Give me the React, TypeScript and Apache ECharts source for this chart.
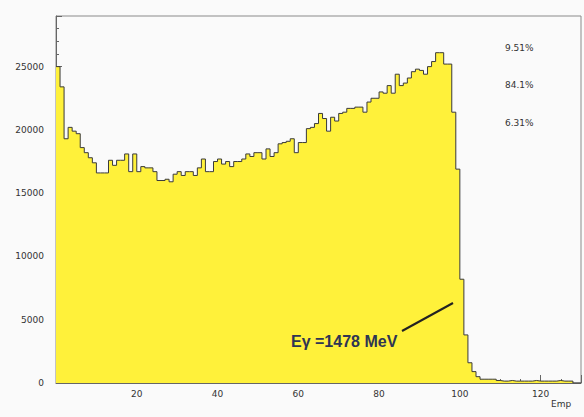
import React, { useEffect, useRef } from "react";
import * as echarts from "echarts";

// Histogram: bin width 1, starting at 0 (counts per bin)
const binStart = 0;
const binWidth = 1;
const counts = [
  25000, 23400, 19300, 20200, 19900, 19700, 18600, 18200, 17800, 17400,
  16600, 16600, 16600, 17600, 17200, 17600, 17600, 18100, 16700, 18100,
  16700, 17100, 17000, 17000, 16700, 16000, 16000, 16100, 15900, 16500,
  16700, 16400, 16700, 16700, 16400, 17000, 17700, 16700, 16700, 17500,
  17700, 17300, 17500, 17100, 17500, 17500, 17700, 18100, 17900, 18200,
  18200, 17700, 18500, 17900, 18200, 18900, 19000, 19100, 19300, 18200,
  19000, 19000, 20100, 20200, 20500, 21300, 20900, 19900, 21000, 20700,
  21300, 21400, 21700, 21700, 21800, 21800, 21400, 22200, 22500, 22500,
  23000, 22900, 23500, 22900, 24400, 23500, 23700, 24100, 24600, 24800,
  24700, 24400, 25000, 25400, 26100, 26100, 25200, 25200, 21400, 16900,
  8200, 3800, 1600, 900, 500, 300, 300, 300, 300, 200,
  150, 150, 200, 150, 150, 150, 150, 150, 200, 150,
  150, 150, 150, 150, 200, 150, 150, 150, 0, 0,
];

const xTicks = [0, 20, 40, 60, 80, 100, 120];
const yTicks = [0, 5000, 10000, 15000, 20000, 25000];
const statTexts = ["9.51%", "84.1%", "6.31%"];
const annotation = "E\u03b3 =1478 MeV";
const xName = "Emp";

export default function App() {
  const ref = useRef<HTMLDivElement>(null);
  useEffect(() => {
    if (!ref.current) return;
    const chart = echarts.init(ref.current, null, { renderer: "svg" });
    const data: number[][] = counts.map((v, i) => [binStart + i * binWidth, v]);
    data.push([binStart + counts.length * binWidth, counts[counts.length - 1]]);
    const xInterval = xTicks[1] - xTicks[0];
    const yInterval = yTicks[1] - yTicks[0];
    const labelFont = { fontSize: 9, color: "#333", fontFamily: "DejaVu Sans" };
    chart.setOption({
      animation: false,
      backgroundColor: "#fafafa",
      grid: {
        left: 56,
        right: 3,
        top: 16,
        bottom: 34,
        show: true,
        borderColor: "#8a8a8a",
        borderWidth: 1,
        backgroundColor: "#fafafa",
      },
      xAxis: {
        type: "value",
        min: 0,
        max: 130,
        interval: xInterval,
        splitLine: { show: false },
        axisLine: { lineStyle: { color: "#666", width: 1 } },
        axisTick: { inside: true, length: 8, lineStyle: { color: "#666" } },
        minorTick: { show: true, splitNumber: 4, length: 4, lineStyle: { color: "#666" } },
        axisLabel: {
          ...labelFont,
          margin: 6,
          showMinLabel: false,
          showMaxLabel: false,
          formatter: (v: number) => String(v),
        },
      },
      yAxis: {
        type: "value",
        min: 0,
        max: 29000,
        interval: yInterval,
        splitLine: { show: false },
        axisLine: { show: true, lineStyle: { color: "#666", width: 1 } },
        axisTick: { show: true, inside: true, length: 6, lineStyle: { color: "#666" } },
        minorTick: { show: true, splitNumber: 5, length: 3, lineStyle: { color: "#666" } },
        axisLabel: {
          ...labelFont,
          margin: 12,
          showMaxLabel: false,
          formatter: (v: number) => String(v),
        },
      },
      series: [
        {
          type: "line",
          step: "end",
          data,
          symbol: "none",
          lineStyle: { color: "#3a3a3a", width: 1 },
          areaStyle: { color: "#fff13a", opacity: 1, origin: "start" },
          z: 2,
        },
      ],
      graphic: [
        ...statTexts.map((t, i) => ({
          type: "text",
          left: 505,
          top: 43 + i * 37.5,
          style: { text: t, fontSize: 9, fill: "#333", fontFamily: "DejaVu Sans" },
        })),
        {
          type: "text",
          left: 551,
          top: 399,
          style: { text: xName, fontSize: 9, fill: "#333", fontFamily: "DejaVu Sans" },
        },
        {
          type: "text",
          left: 291,
          top: 333,
          z: 10,
          style: {
            text: annotation,
            fontSize: 16,
            fontWeight: "bold",
            fill: "#2f3553",
            fontFamily: "Liberation Sans",
          },
        },
        {
          type: "line",
          z: 10,
          shape: { x1: 402, y1: 331, x2: 453, y2: 303 },
          style: { stroke: "#222", lineWidth: 2 },
        },
      ],
    });
    return () => chart.dispose();
  }, []);
  return (
    <div
      ref={ref}
      style={{ position: "absolute", left: 0, top: 0, width: 584, height: 417 }}
    />
  );
}
